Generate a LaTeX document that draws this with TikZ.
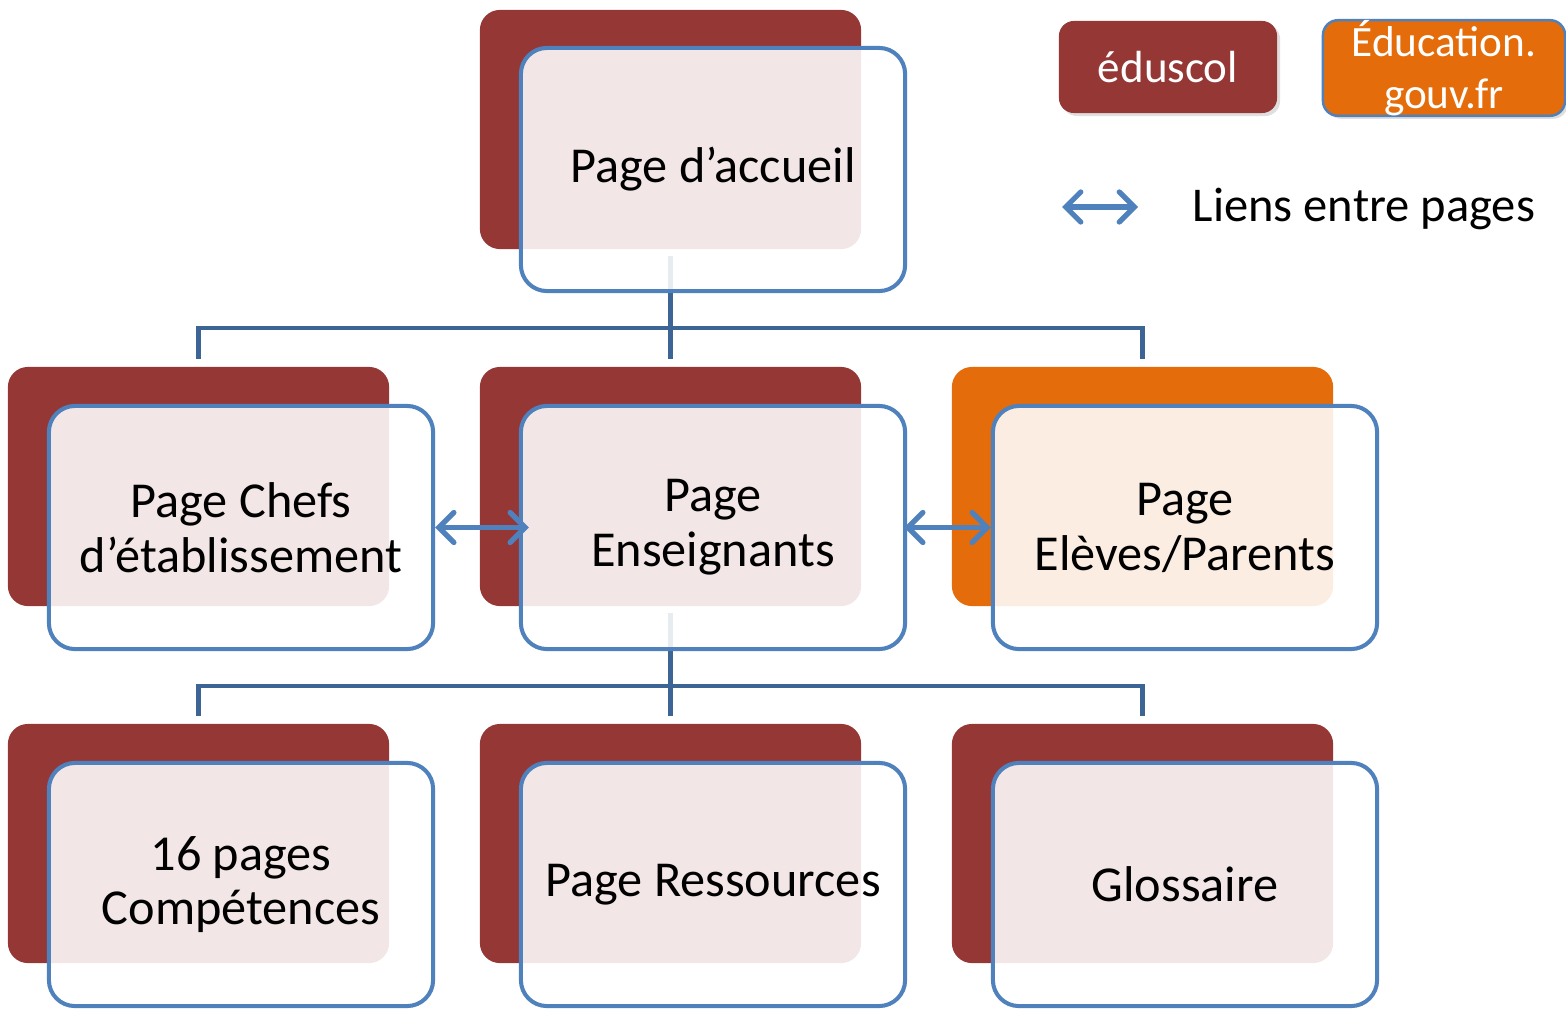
\documentclass[tikz,border=0pt]{standalone}
\usepackage{fontspec}
\setmainfont{Carlito}
\usetikzlibrary{arrows.meta,shadows}
\definecolor{backred}{HTML}{953735}
\definecolor{backorange}{HTML}{E46C0A}
\definecolor{frameblue}{HTML}{4F81BD}
\definecolor{treeblue}{HTML}{3C6494}

\begin{document}
\begin{tikzpicture}[x=0.01cm,y=-0.01cm,
  every node/.style={font=\fontsize{14.3}{15.6}\selectfont, align=center},
  back/.style={rectangle, rounded corners=0.2cm, fill=backred, minimum width=3.81cm, minimum height=2.39cm, inner sep=0pt},
  front/.style={rectangle, rounded corners=0.26cm, draw=frameblue, line width=1.15pt, fill=white, fill opacity=0.88, text opacity=1, minimum width=3.84cm, minimum height=2.43cm, inner sep=0pt},
  tree/.style={draw=treeblue, line width=1.35pt},
  link/.style={draw=frameblue, line width=1.5pt, line cap=round, {Straight Barb[length=0.15cm, width=0.3cm, line cap=round]}-{Straight Barb[length=0.15cm, width=0.3cm, line cap=round]}},
  legendbox/.style={rectangle, rounded corners=0.15cm, text=white, inner sep=0pt, drop shadow={opacity=0.25, shadow xshift=0.03cm, shadow yshift=-0.03cm}}]
\useasboundingbox (0,0) rectangle (1566,1009);

% Define the back shapes
\node[back] (accueilbg) at (670.5,129.5) {};
\node[back] (chefsbg) at (198.5,486.5) {};
\node[back] (ensbg) at (670.5,486.5) {};
\node[back, fill=backorange] (elevesbg) at (1142.5,486.5) {};
\node[back] (compbg) at (198.5,843.5) {};
\node[back] (ressbg) at (670.5,843.5) {};
\node[back] (glossbg) at (1142.5,843.5) {};

% Draw the tree between the levels
\coordinate (bus1) at (670.5,328);
\coordinate (bus2) at (670.5,686);
\draw[tree, shorten <=0.06cm] (accueilbg.south) -- (bus1);
\foreach \n in {chefsbg,ensbg,elevesbg}
  \draw[tree, shorten >=0.07cm] (bus1) -| (\n.north);
\draw[tree, shorten <=0.06cm] (ensbg.south) -- (bus2);
\foreach \n in {compbg,ressbg,glossbg}
  \draw[tree, shorten >=0.07cm] (bus2) -| (\n.north);

% Define the pages
\node[front] (accueil) at (713,169.5) {Page d’accueil};
\node[front] (chefs) at (241,527.5) {Page Chefs\\d’établissement};
\node[front] (ens) at (713,527.5) {Page\\Enseignants};
\node[front] (eleves) at (1185,527.5) {Page\\Elèves/Parents};
\node[front] (comp) at (241,884.5) {16 pages\\Compétences};
\node[front] (ress) at (713,884.5) {Page Ressources};
\node[front] (gloss) at (1185,884.5) {Glossaire};

% Draw the links between pages
\draw[link, shorten >=-0.1cm] (chefs.east) -- (ens.west);
\draw[link, shorten <=-0.03cm] (ens.east) -- (eleves.west);

% Legend
\node[legendbox, fill=backred, minimum width=2.18cm, minimum height=0.92cm, font=\fontsize{12.8}{14.8}\selectfont] (eduscol) at (1168,67) {éduscol};
\node[legendbox, fill=backorange, draw=frameblue, line width=0.7pt, minimum width=2.42cm, minimum height=0.88cm, font=\fontsize{12.3}{14.8}\selectfont] (edugouv) at (1444,68) {Éducation.\\gouv.fr};
\coordinate (legL) at (1062,207);
\coordinate (legR) at (1138,207);
\draw[link] (legL) -- (legR);
\node[anchor=west, inner sep=0pt, font=\fontsize{13.8}{15.6}\selectfont] (legtxt) at (1192,209) {Liens entre pages};
\end{tikzpicture}
\end{document}
